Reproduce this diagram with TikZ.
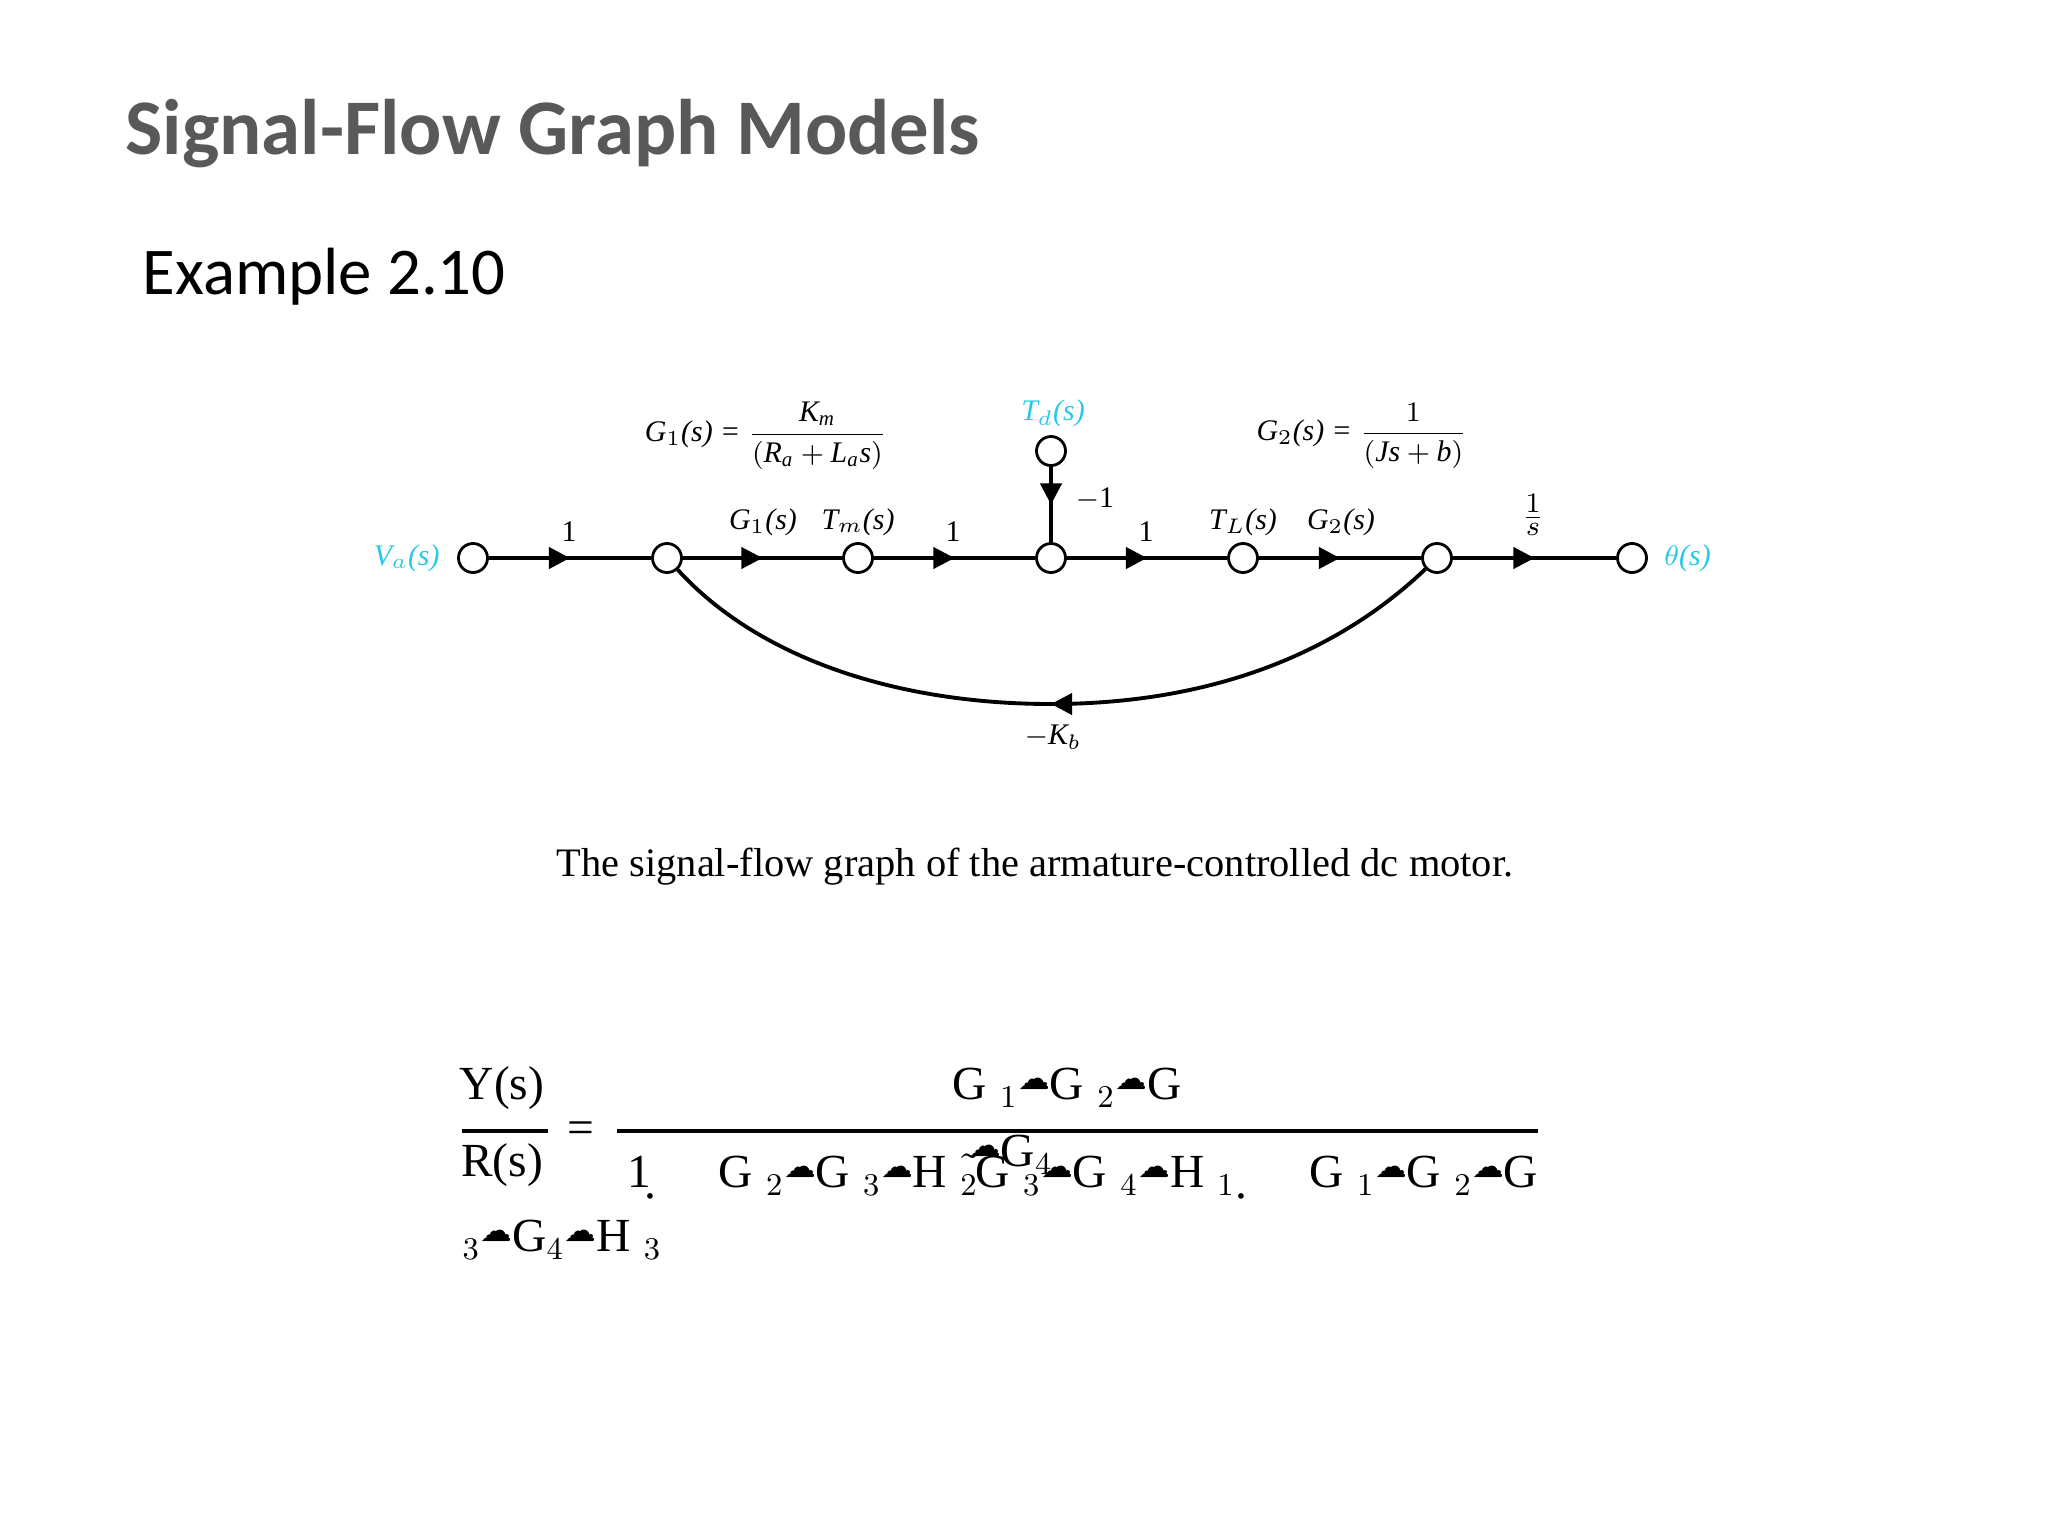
\documentclass[tikz,border=0pt]{standalone}
\usepackage{fontspec}
\setmainfont{Liberation Serif}
\newfontfamily\carl{Carlito}
\newfontfamily\dv{DejaVu Sans}
\usetikzlibrary{arrows.meta,decorations.markings}
\definecolor{ttl}{RGB}{89,89,89}
\definecolor{cyn}{RGB}{40,200,230}
\newcommand{\cl}{{\dv\fontsize{9pt}{9pt}\selectfont\raisebox{3pt}{☁}}}
\begin{document}
\begin{tikzpicture}[x=0.01cm,y=-0.01cm,
  sn/.style={circle,draw,thick,fill=white,minimum size=0.29cm,inner sep=0pt},
  br/.style={line width=1.1pt,postaction={decorate},decoration={markings,mark=at position 0.5 with {\arrow{Triangle[length=6pt,width=6pt]}}}},
  brend/.style={line width=1.1pt,postaction={decorate},decoration={markings,mark=at position 1 with {\arrow{Triangle[length=6pt,width=6pt]}}}},
  lb/.style={font=\fontsize{8.5pt}{9pt}\selectfont\itshape},
  eq/.style={font=\fontsize{13.5pt}{14pt}\selectfont,inner sep=0pt}]
\useasboundingbox (0,0) rectangle (2048,1536);
\node[anchor=west,inner sep=0pt,text=ttl,font=\carl\bfseries\fontsize{22.4pt}{26pt}\selectfont] (title) at (125,134) {Signal-Flow Graph Models};
\node[anchor=west,inner sep=0pt,font=\carl\fontsize{19pt}{22pt}\selectfont] (ex) at (142,277) {Example 2.10};
% nodes
\node[sn] (n1) at (473,558) {};
\node[sn] (n2) at (667,558) {};
\node[sn] (n3) at (858,558) {};
\node[sn] (n4) at (1051,558) {};
\node[sn] (n5) at (1243,558) {};
\node[sn] (n6) at (1437,558) {};
\node[sn] (n7) at (1632,558) {};
\node[sn] (td) at (1051,451) {};
\draw[br] (n1)--(n2);
\draw[br] (n2)--(n3);
\draw[br] (n3)--(n4);
\draw[br] (n4)--(n5);
\draw[br] (n5)--(n6);
\draw[br] (n6)--(n7);
\draw[br] (td)--(n4);
\draw[brend] (n6) .. controls (1330,660) and (1200,704) .. (1051,704) coordinate (kb);
\draw[line width=1.1pt] (kb) .. controls (900,704) and (760,660) .. (n2);
% labels
\node[lb,text=cyn,anchor=east] (va) at (452,558) {V$_a$(s)};
\node[lb,text=cyn,anchor=west] (th) at (1652,558) {$\theta$(s)};
\node[lb,text=cyn] (tdl) at (1053,413) {T$_d$(s)};
\node[lb] at (569,532) {\upshape 1};
\node[lb] at (763,522) {G$_1$(s)};
\node[lb] at (858,522) {T$_m$(s)};
\node[lb] at (953,532) {\upshape 1};
\node[lb] at (1095,499) {\upshape $-$1};
\node[lb] at (1146,532) {\upshape 1};
\node[lb] at (1243,522) {T$_L$(s)};
\node[lb] at (1341,522) {G$_2$(s)};
\node[lb] at (1533,515) {$\frac{\textstyle 1}{\textstyle s}$};
\node[lb] at (1053,737) {$-$K$_b$};
\node[lb] at (766,436) {G$_1$(s) = $\displaystyle\frac{\mathit{K_m}}{(\mathit{R_a}+\mathit{L_a s})}$};
\node[lb] at (1362,436) {G$_2$(s) = $\displaystyle\frac{1}{(\mathit{Js}+\mathit{b})}$};
\node[font=\fontsize{11.5pt}{12pt}\selectfont] (cap) at (1035,867) {The signal-flow graph of the armature-controlled dc motor.};
% equation
\node[eq] (y) at (502,1088) {Y(s)};
\node[eq] (r) at (502,1165) {R(s)};
\draw[line width=1pt] (462,1131) -- (548,1131);
\node[eq] at (581,1133) {=};
\draw[line width=1pt] (617,1131) -- (1538,1131);
\node[eq] (num) at (1067,1088) {G\;$_1$\cl G\;$_2$\cl G};
\node[eq,anchor=west] (den) at (627,1167) {\makebox[9.1cm][l]{1\kern-2pt\raisebox{-3pt}{.}\hfill G\;$_2$\cl G\;$_3$\cl H\;$_2$\kern-4pt$\tilde{~}$\kern-2pt\raisebox{6pt}{\cl G$_4$}\kern-22pt G\;$_3$\cl G\;$_4$\cl H\;$_1$\raisebox{-3pt}{.}\hfill G\;$_1$\cl G\;$_2$\cl G}};
\node[eq,anchor=west] (l3) at (462,1240) {$_3$\cl G$_4$\cl H\;$_3$};
\end{tikzpicture}
\end{document}
